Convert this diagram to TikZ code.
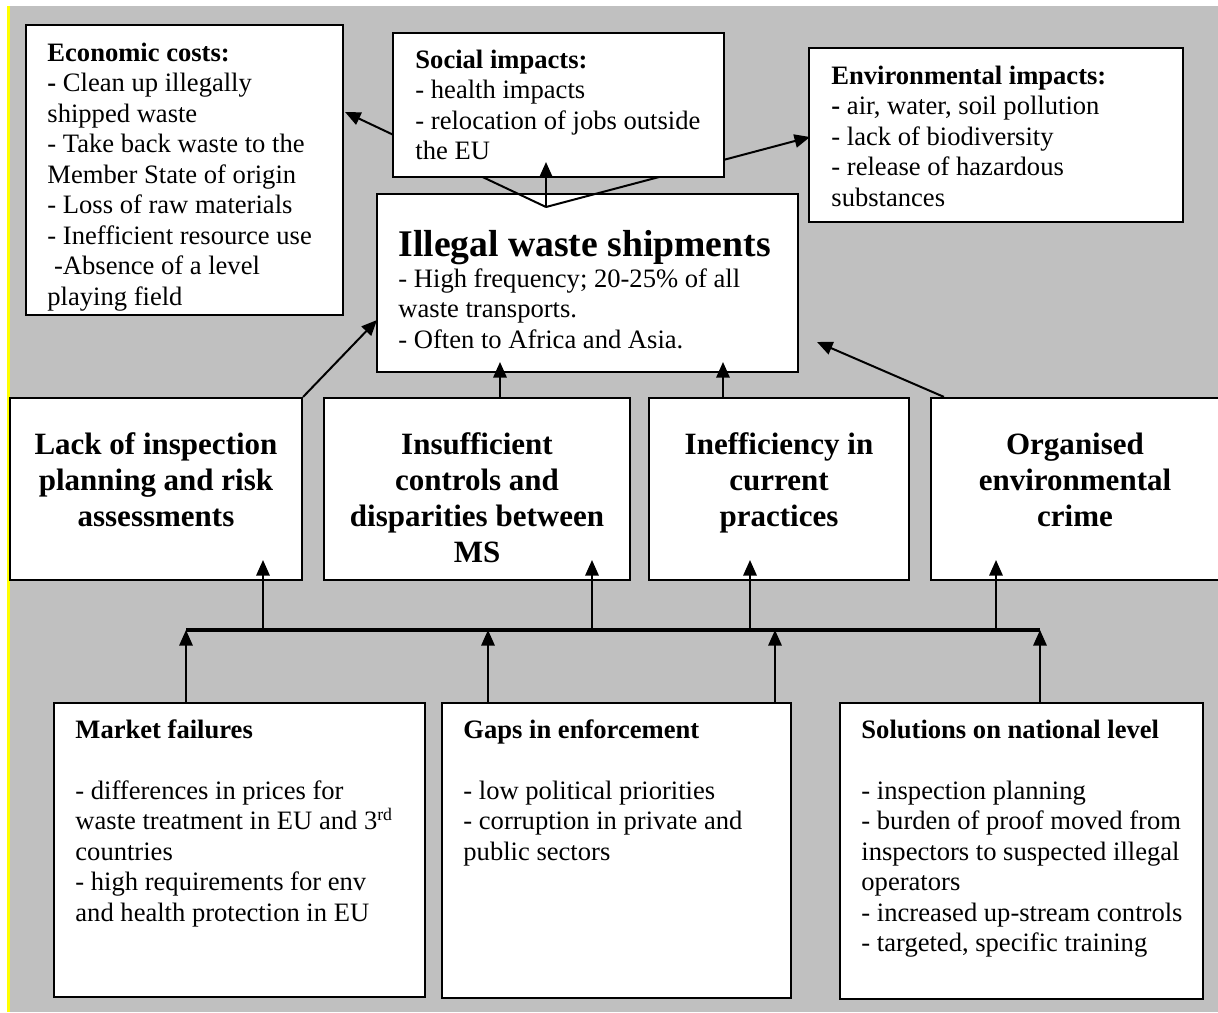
\documentclass[tikz,border=0pt]{standalone}
\usepackage{fontspec}
\setmainfont{Liberation Serif}
\usetikzlibrary{arrows.meta,fit,calc}
\definecolor{bggray}{RGB}{192,192,192}
\definecolor{edgeyellow}{RGB}{255,255,0}
\begin{document}
\begin{tikzpicture}[x=0.4515pt,y=-0.4515pt,
  boxst/.style={draw=black, fill=white, line width=1pt, inner sep=0pt},
  arr/.style={-{Triangle[length=7pt,width=6pt]}, line width=0.9pt},
  busst/.style={line width=1.5pt},
  txt/.style={inner sep=0pt, anchor=base west, font=\fontsize{12}{13.8}\selectfont},
  midtxt/.style={inner sep=0pt, anchor=base, font=\fontsize{14}{16.4}\selectfont\bfseries},
  titletxt/.style={inner sep=0pt, anchor=base west, font=\fontsize{17}{19}\selectfont\bfseries}]
\useasboundingbox (0,0) rectangle (1218,1012);
\clip (0,0) rectangle (1218,1012);
\fill[white] (0,0) rectangle (1218,1012);
\fill[bggray] (9,6) rectangle (1218,1012);
\draw[edgeyellow, line width=1.2pt] (8.5,6) -- (8.5,1012);

% top boxes
\node[boxst, fit={(26,25) (343,315)}] (econ) {};
\node[boxst, fit={(809,48) (1183,222)}] (env) {};
\node[boxst, fit={(377,194) (798,372)}] (ill) {};
\coordinate (J) at (546,207);
\coordinate (econIn) at (345,112);
\coordinate (envIn) at (810,137);
\coordinate (socIn) at (546,162);
\draw[arr] (J) -- (econIn);
\draw[arr] (J) -- (envIn);
\node[boxst, fit={(393,33) (724,177)}] (soc) {};
\draw[arr] (J) -- (socIn);

% middle boxes
\node[boxst, fit={(10,398) (302,580)}] (lack) {};
\node[boxst, fit={(324,398) (630,580)}] (insuf) {};
\node[boxst, fit={(649,398) (909,580)}] (ineff) {};
\node[boxst, fit={(931,398) (1222,580)}] (org) {};

% bottom boxes
\node[boxst, fit={(54,703) (425,997)}] (mkt) {};
\node[boxst, fit={(442,703) (791,998)}] (gaps) {};
\node[boxst, fit={(840,703) (1203,999)}] (sol) {};

% arrows into the central box
\coordinate (illL) at (377,320);
\coordinate (illB1) at (500,362);
\coordinate (illB2) at (723,362);
\coordinate (illR) at (817,342);
\draw[arr] (lack.north east) -- (illL);
\draw[arr] (insuf.north -| illB1) -- (illB1);
\draw[arr] (ineff.north -| illB2) -- (illB2);
\draw[arr] ($(org.north west)+(14,0)$) -- (illR);

% bus
\coordinate (busL) at (186,630);
\coordinate (busR) at (1040,630);
\draw[busst] (busL) -- (busR);
\coordinate (lackIn) at (263,560);
\coordinate (insufIn) at (592,560);
\coordinate (ineffIn) at (750,560);
\coordinate (orgIn) at (996,560);
\draw[arr] (busL -| lackIn) -- (lackIn);
\draw[arr] (busL -| insufIn) -- (insufIn);
\draw[arr] (busL -| ineffIn) -- (ineffIn);
\draw[arr] (busL -| orgIn) -- (orgIn);
\coordinate (gapsOut1) at (488,630);
\coordinate (gapsOut2) at (775,630);
\draw[arr] (mkt.north -| busL) -- (busL);
\draw[arr] (gaps.north -| gapsOut1) -- (gapsOut1);
\draw[arr] (gaps.north -| gapsOut2) -- (gapsOut2);
\draw[arr] (sol.north -| busR) -- (busR);

% texts
\node[txt] (econT) at (47,61) {\parbox[t]{160pt}{\textbf{Economic costs:}\\
\textbf{-} Clean up illegally\\
shipped waste\\
- Take back waste to the\\
Member State of origin\\
- Loss of raw materials\\
- Inefficient resource use\\
\hspace*{0.25em}-Absence of a level\\
playing field}};

\node[txt] (socT) at (415,68) {\parbox[t]{160pt}{\textbf{Social impacts:}\\
- health impacts\\
- relocation of jobs outside\\
the EU}};

\node[txt] (envT) at (831,84) {\parbox[t]{165pt}{\textbf{Environmental impacts:}\\
\textbf{-} air, water, soil pollution\\
- lack of biodiversity\\
- release of hazardous\\
substances}};

\node[titletxt] (illTitle) at (398,256) {Illegal waste shipments};
\node[txt] (illT) at (398,287) {\parbox[t]{180pt}{- High frequency; 20-25\% of all\\
waste transports.\\
- Often to Africa and Asia.}};

\node[midtxt] (lackT) at (156,454) {\parbox[t]{130pt}{\centering Lack of inspection\\planning and risk\\assessments}};
\node[midtxt] (insufT) at (477,454) {\parbox[t]{135pt}{\centering Insufficient\\controls and\\disparities between\\MS}};
\node[midtxt] (ineffT) at (779,454) {\parbox[t]{115pt}{\centering Inefficiency in\\current\\practices}};
\node[midtxt] (orgT) at (1075,454) {\parbox[t]{125pt}{\centering Organised\\environmental\\crime}};

\node[txt] (mktT) at (75,738) {\parbox[t]{165pt}{\textbf{Market failures}\\[13.8pt]
- differences in prices for\\
waste treatment in EU and 3\textsuperscript{rd}\\
countries\\
- high requirements for env\\
and health protection in EU}};

\node[txt] (gapsT) at (463,738) {\parbox[t]{150pt}{\textbf{Gaps in enforcement}\\[13.8pt]
- low political priorities\\
- corruption in private and\\
public sectors}};

\node[txt] (solT) at (861,738) {\parbox[t]{160pt}{\textbf{Solutions on national level}\\[13.8pt]
- inspection planning\\
- burden of proof moved from\\
inspectors to suspected illegal\\
operators\\
- increased up-stream controls\\
- targeted, specific training}};
\end{tikzpicture}
\end{document}
